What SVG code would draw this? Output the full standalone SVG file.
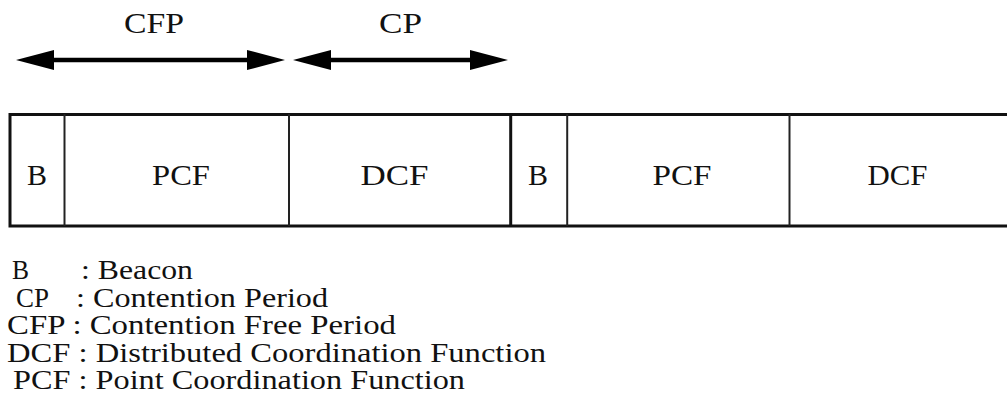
<svg xmlns="http://www.w3.org/2000/svg" width="1007" height="397" viewBox="0 0 1007 397" font-family="'Liberation Serif', 'Times New Roman', Times, serif">
  <style>
    text { fill: #111; }
    .lbl { font-size: 30px; }
    .cell { font-size: 30px; text-anchor: middle; }
    .leg { font-size: 27px; }
    .frame { fill: none; stroke: #111; stroke-width: 3; }
    .div { stroke: #222; stroke-width: 2; }
    .div-major { stroke: #111; stroke-width: 3; }
    .shaft { stroke: #000; stroke-width: 4.5; marker-start: url(#head); marker-end: url(#head); }
  </style>
  <defs>
    <marker id="head" markerUnits="userSpaceOnUse" viewBox="0 0 38 20" refX="18" refY="10" markerWidth="38" markerHeight="20" orient="auto-start-reverse">
      <path d="M0,0 L38,10 L0,20 Z" fill="#000"/>
    </marker>
  </defs>

  <!-- period arrows -->
  <g id="connectors">
    <line class="shaft" x1="36" y1="60" x2="265" y2="60"/>
    <line class="shaft" x1="313" y1="60" x2="488" y2="60"/>
  </g>

  <!-- period labels -->
  <g id="period-labels">
    <text id="label-cfp" class="lbl" x="124" y="33" textLength="60" lengthAdjust="spacingAndGlyphs">CFP</text>
    <text id="label-cp" class="lbl" x="379" y="33" textLength="43" lengthAdjust="spacingAndGlyphs">CP</text>
  </g>

  <!-- superframe strip -->
  <g id="frame">
    <path class="frame" d="M1010,114.5 H10 V226 H1010"/>
  </g>
  <g id="beacon-1">
    <text class="cell" x="37" y="185" textLength="20" lengthAdjust="spacingAndGlyphs">B</text>
    <line class="div" x1="64.5" y1="114" x2="64.5" y2="226"/>
  </g>
  <g id="pcf-1">
    <text class="cell" x="181" y="185" textLength="58" lengthAdjust="spacingAndGlyphs">PCF</text>
    <line class="div" x1="289" y1="114" x2="289" y2="226"/>
  </g>
  <g id="dcf-1">
    <text class="cell" x="394.5" y="185" textLength="68" lengthAdjust="spacingAndGlyphs">DCF</text>
    <line class="div-major" x1="510.7" y1="114" x2="510.7" y2="226"/>
  </g>
  <g id="beacon-2">
    <text class="cell" x="538" y="185" textLength="20" lengthAdjust="spacingAndGlyphs">B</text>
    <line class="div" x1="567.2" y1="114" x2="567.2" y2="226"/>
  </g>
  <g id="pcf-2">
    <text class="cell" x="682" y="185" textLength="59" lengthAdjust="spacingAndGlyphs">PCF</text>
    <line class="div" x1="789.5" y1="114" x2="789.5" y2="226"/>
  </g>
  <g id="dcf-2">
    <text class="cell" x="897.5" y="185" textLength="60" lengthAdjust="spacingAndGlyphs">DCF</text>
  </g>

  <!-- abbreviation key -->
  <g id="legend">
    <text class="leg" x="12" y="279" textLength="17" lengthAdjust="spacingAndGlyphs">B</text>
    <text class="leg" x="81" y="279" textLength="112" lengthAdjust="spacingAndGlyphs">: Beacon</text>
    <text class="leg" x="16" y="307" textLength="33" lengthAdjust="spacingAndGlyphs">CP</text>
    <text class="leg" x="76" y="307" textLength="252" lengthAdjust="spacingAndGlyphs">: Contention Period</text>
    <text class="leg" x="7" y="334" textLength="389" lengthAdjust="spacingAndGlyphs">CFP : Contention Free Period</text>
    <text class="leg" x="7" y="362" textLength="539" lengthAdjust="spacingAndGlyphs">DCF : Distributed Coordination Function</text>
    <text class="leg" x="13" y="389" textLength="452" lengthAdjust="spacingAndGlyphs">PCF : Point Coordination Function</text>
  </g>
</svg>
